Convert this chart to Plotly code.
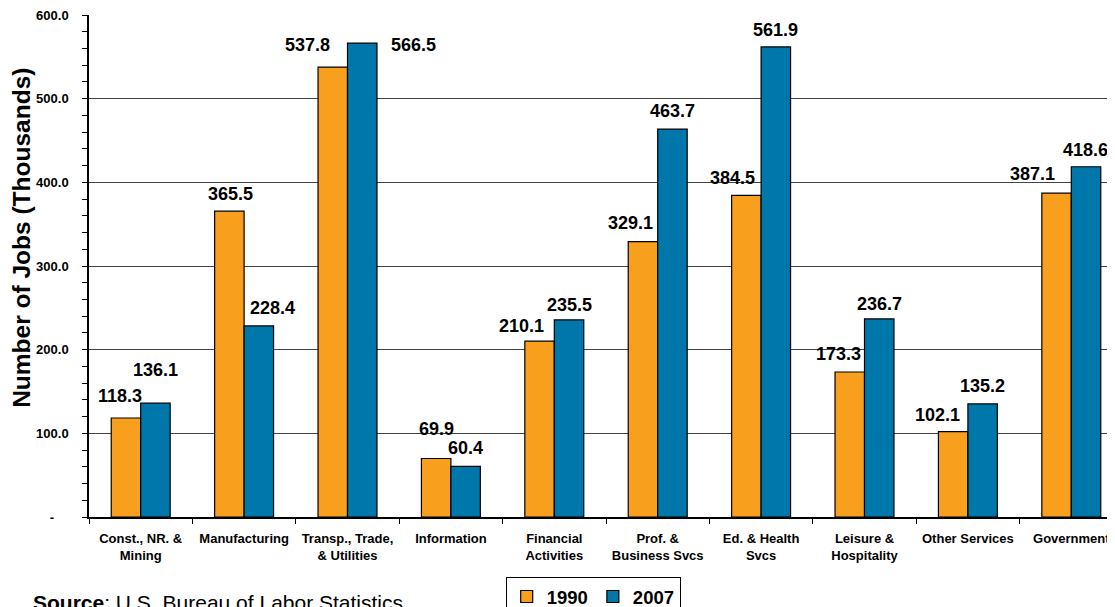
import plotly.graph_objects as go

categories = ["Const., NR. &<br>Mining", "Manufacturing", "Transp., Trade,<br>& Utilities",
              "Information", "Financial<br>Activities", "Prof. &<br>Business Svcs",
              "Ed. & Health<br>Svcs", "Leisure &<br>Hospitality", "Other Services", "Government"]
jobs_1990 = [118.3, 365.5, 537.8, 69.9, 210.1, 329.1, 384.5, 173.3, 102.1, 387.1]
jobs_2007 = [136.1, 228.4, 566.5, 60.4, 235.5, 463.7, 561.9, 236.7, 135.2, 418.6]
tick_vals = [0, 100, 200, 300, 400, 500, 600]
tick_text = ["-\u00a0\u00a0\u00a0\u00a0", "100.0", "200.0", "300.0", "400.0", "500.0", "600.0"]

# label placement (pixel offsets from the top-centre of each bar), as in the original chart
label_dx_1990 = [-6, 1, -25, 0, -18, -13, -14, -11, -16, -24]
label_up_1990 = [22, 17, 22, 30, 15, 19, 17, 18, 17, 19]
label_dx_2007 = [0, 14, 51, 0, 0, 0, 0, 0, 0, -1]
label_up_2007 = [33, 18, -2, 18, 15, 18, 17, 15, 18, 17]

FONT = "Liberation Sans, Arial, sans-serif"
ORANGE = "#F89F1E"
BLUE = "#0077AA"
BAR_HALF = 14.7  # half bar width in px (for label centring)

fig = go.Figure()
fig.add_trace(go.Bar(
    x=categories, y=jobs_1990, name="<b>1990</b>",
    marker=dict(color=ORANGE, line=dict(color="#000000", width=1.2)),
))
fig.add_trace(go.Bar(
    x=categories, y=jobs_2007, name="<b>2007</b>",
    marker=dict(color=BLUE, line=dict(color="#000000", width=1.2)),
))

annotations = []
for cat, v, dx, up in zip(categories, jobs_1990, label_dx_1990, label_up_1990):
    annotations.append(dict(x=cat, y=v, xref="x", yref="y", text=f"<b>{v:.1f}</b>",
                            showarrow=False, xanchor="center", yanchor="middle",
                            xshift=-BAR_HALF + dx, yshift=up,
                            font=dict(family=FONT, size=18, color="#000000")))
for cat, v, dx, up in zip(categories, jobs_2007, label_dx_2007, label_up_2007):
    annotations.append(dict(x=cat, y=v, xref="x", yref="y", text=f"<b>{v:.1f}</b>",
                            showarrow=False, xanchor="center", yanchor="middle",
                            xshift=BAR_HALF + dx, yshift=up,
                            font=dict(family=FONT, size=18, color="#000000")))

annotations.append(dict(
    xref="paper", yref="paper", x=-0.0653, y=0.557, xanchor="center", yanchor="middle",
    text="<b>Number of Jobs (Thousands)</b>", textangle=-90, showarrow=False,
    font=dict(family=FONT, size=24.5, color="#000000"),
))
annotations.append(dict(
    xref="paper", yref="paper", x=-0.0565, y=-0.143, xanchor="left", yanchor="top",
    text="<b>Source</b>: U.S. Bureau of Labor Statistics", showarrow=False,
    font=dict(family=FONT, size=21, color="#000000"),
))

fig.update_layout(
    width=1115, height=607,
    margin=dict(l=81, r=0, t=7, b=98, autoexpand=False),
    paper_bgcolor="white", plot_bgcolor="white",
    barmode="group", bargap=0.43, bargroupgap=0,
    font=dict(family=FONT, color="#000000"),
    showlegend=True,
    legend=dict(orientation="h", x=0.403, y=-0.1195, xanchor="left", yanchor="top",
                bordercolor="#000000", borderwidth=1, bgcolor="white",
                font=dict(family=FONT, size=18.5, color="#000000"),
                itemwidth=30, tracegroupgap=0),
    xaxis=dict(
        type="category", range=[-0.5, 9.5], automargin=False,
        tickson="boundaries", ticks="outside", ticklen=5, tickcolor="#000000",
        showline=True, linecolor="#000000", linewidth=1.5,
        tickfont=dict(family=FONT, size=13, color="#000000"),
        tickprefix="<b>", ticksuffix="</b>", ticklabelstandoff=9,
        ticklabeloverflow="allow",
    ),
    yaxis=dict(
        range=[0, 600], tickvals=tick_vals, ticktext=[f"<b>{t}</b>" for t in tick_text],
        automargin=False,
        ticks="outside", ticklen=5, tickcolor="#000000",
        minor=dict(dtick=20, ticks="outside", ticklen=5, tickcolor="#000000", showgrid=False),
        showline=True, linecolor="#000000", linewidth=1.5,
        showgrid=True, gridcolor="#444444", gridwidth=1,
        tickfont=dict(family=FONT, size=13, color="#000000"),
        ticklabelstandoff=11, ticklabeloverflow="allow",
        zeroline=False,
    ),
    annotations=annotations,
)

fig.write_html("out.html")
